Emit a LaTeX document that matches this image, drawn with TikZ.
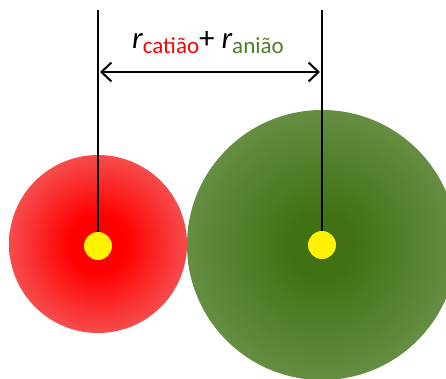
\documentclass[tikz,border=0pt]{standalone}
\usepackage{fontspec}
\setmainfont{Carlito}
\usetikzlibrary{arrows.meta}
\definecolor{anioncol}{RGB}{80,125,40}
\definecolor{gcenter}{RGB}{64,114,20}
\definecolor{gedge}{RGB}{122,158,92}
\definecolor{redge}{RGB}{241,120,120}
\pgfdeclareradialshading{redball}{\pgfpoint{0bp}{0bp}}{color(0bp)=(red); color(8bp)=(red); color(35bp)=(redge); color(50bp)=(redge)}
\pgfdeclareradialshading{greenball}{\pgfpoint{0bp}{0bp}}{color(0bp)=(gcenter); color(6bp)=(gcenter); color(36bp)=(gedge); color(50bp)=(gedge)}
\begin{document}
\begin{tikzpicture}[x=1pt,y=-1pt,
  ball/.style={circle,inner sep=0pt,draw=none},
  dot/.style={circle,fill=yellow,inner sep=0pt,minimum size=28pt},
  stick/.style={line width=2.2pt,black},
  dim/.style={line width=2pt,black,{Straight Barb[length=10pt,width=19pt,line width=2pt]}-{Straight Barb[length=10pt,width=19pt,line width=2pt]}}]
\useasboundingbox (0,0) rectangle (446,379);
\clip (0,0) rectangle (446,379);
\node[ball,minimum size=178pt,shading=redball] (cat) at (98,244) {};
\node[ball,minimum size=270pt,shading=greenball] (an) at (322,245) {};
\coordinate (ctop) at (98,10);
\coordinate (atop) at (322,10);
\draw[stick] (ctop) -- (98,244);
\draw[stick] (atop) -- (322,245);
\node[dot] (cdot) at (98,246) {};
\node[dot] (adot) at (322,245) {};
\coordinate (al) at (100,72);
\coordinate (ar) at (320,72);
\draw[dim] (al) -- (ar);
\node[anchor=base,inner sep=0pt] (lab) at (208,49) {\fontsize{31}{31}\selectfont\itshape r\upshape\raisebox{-5pt}{\fontsize{23}{23}\selectfont\color{red}catião}+ \itshape r\upshape\raisebox{-5pt}{\fontsize{23}{23}\selectfont\color{anioncol}anião}};
\end{tikzpicture}
\end{document}
